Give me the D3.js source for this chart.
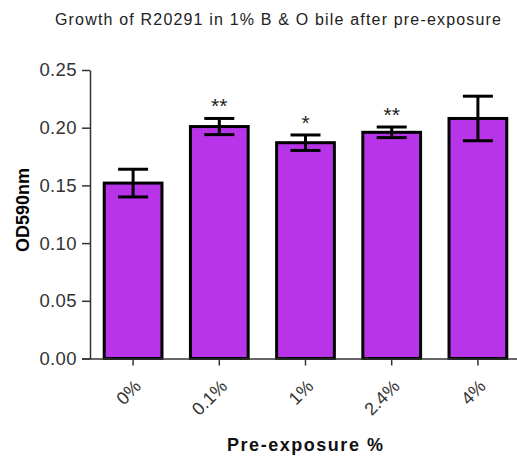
<!DOCTYPE html>
<html>
<head>
<meta charset="utf-8">
<script src="https://cdn.jsdelivr.net/npm/d3@7"></script>
<style>
  html, body { margin: 0; padding: 0; background: #fff; }
  svg { display: block; }
</style>
</head>
<body>
<div id="chart"></div>
<script>
// Pre-exposure groups and measured OD590 (mean ± SEM)
const categories = ["0%", "0.1%", "1%", "2.4%", "4%"];
const means = [0.152, 0.201, 0.187, 0.196, 0.208];
const sems = [0.012, 0.007, 0.0067, 0.0046, 0.0193];
const significance = ["", "**", "*", "**", ""];
const yTicks = [0.00, 0.05, 0.10, 0.15, 0.20, 0.25];

const width = 517, height = 463;
const margin = { top: 70, left: 90 };
const plotBottom = 358.5;
const font = "Arial, 'Liberation Sans', sans-serif";

const svg = d3.select("#chart").append("svg")
  .attr("width", width).attr("height", height);

const x = d3.scaleBand()
  .domain(categories)
  .range([margin.left, 521])
  .paddingInner(0.33)
  .paddingOuter(0.165);

const y = d3.scaleLinear()
  .domain([0, 0.25])
  .range([plotBottom, margin.top]);

// Title
svg.append("text")
  .attr("x", 278).attr("y", 25)
  .attr("text-anchor", "middle")
  .attr("font-family", font)
  .attr("font-size", 16)
  .attr("textLength", 446)
  .attr("lengthAdjust", "spacing")
  .attr("fill", "#222")
  .text("Growth of R20291 in 1% B & O bile after pre-exposure");

// Bars
svg.append("g").selectAll("rect")
  .data(means)
  .join("rect")
  .attr("x", (d, i) => x(categories[i]))
  .attr("y", d => y(d))
  .attr("width", x.bandwidth())
  .attr("height", d => plotBottom - y(d))
  .attr("fill", "#B834E8")
  .attr("stroke", "#000")
  .attr("stroke-width", 3);

// Error bars
const capW = 30;
const err = svg.append("g").attr("stroke", "#000").attr("stroke-width", 3);
means.forEach((m, i) => {
  const cx = x(categories[i]) + x.bandwidth() / 2;
  const hi = y(m + sems[i]), lo = y(m - sems[i]);
  err.append("line").attr("x1", cx).attr("x2", cx).attr("y1", hi).attr("y2", lo);
  err.append("line").attr("x1", cx - capW / 2).attr("x2", cx + capW / 2).attr("y1", hi).attr("y2", hi);
  err.append("line").attr("x1", cx - capW / 2).attr("x2", cx + capW / 2).attr("y1", lo).attr("y2", lo);
});

// Significance markers
svg.append("g").selectAll("text")
  .data(significance)
  .join("text")
  .attr("x", (d, i) => x(categories[i]) + x.bandwidth() / 2)
  .attr("y", (d, i) => y(means[i] + sems[i]) - 5)
  .attr("text-anchor", "middle")
  .attr("font-family", font)
  .attr("font-size", 21)
  .attr("fill", "#222")
  .text(d => d);

// Y axis
const yAxis = svg.append("g")
  .attr("transform", `translate(${margin.left},0)`)
  .call(d3.axisLeft(y).tickValues(yTicks).tickFormat(d3.format(".2f")).tickSize(8).tickSizeOuter(0));
yAxis.select(".domain").attr("stroke", "#333").attr("stroke-width", 1.5);
yAxis.selectAll(".tick line").attr("stroke", "#333").attr("stroke-width", 1.5);
yAxis.selectAll(".tick text")
  .attr("x", -13)
  .attr("font-family", font)
  .attr("font-size", 18.5)
  .attr("letter-spacing", 0.4)
  .attr("fill", "#333");

// X axis
const xAxis = svg.append("g")
  .attr("transform", `translate(0,${plotBottom})`)
  .call(d3.axisBottom(x).tickSize(7).tickSizeOuter(0));
xAxis.select(".domain").attr("d", `M82,0.5H521`).attr("stroke", "#333").attr("stroke-width", 1.5);
xAxis.selectAll(".tick line").attr("stroke", "#333").attr("stroke-width", 1.5);
xAxis.selectAll(".tick text")
  .attr("font-family", font)
  .attr("font-size", 18)
  .attr("fill", "#333")
  .attr("text-anchor", "end")
  .attr("dy", null)
  .attr("y", null)
  .attr("transform", "translate(9,29) rotate(-45)");

// Axis titles
svg.append("text")
  .attr("transform", "translate(29,210) rotate(-90)")
  .attr("text-anchor", "middle")
  .attr("font-family", font)
  .attr("font-size", 18)
  .attr("font-weight", "bold")
  .attr("textLength", 84)
  .attr("lengthAdjust", "spacing")
  .attr("fill", "#000")
  .text("OD590nm");

svg.append("text")
  .attr("x", 305).attr("y", 451)
  .attr("text-anchor", "middle")
  .attr("font-family", font)
  .attr("font-size", 18)
  .attr("font-weight", "bold")
  .attr("textLength", 156)
  .attr("lengthAdjust", "spacing")
  .attr("fill", "#111")
  .text("Pre-exposure %");
</script>
</body>
</html>
